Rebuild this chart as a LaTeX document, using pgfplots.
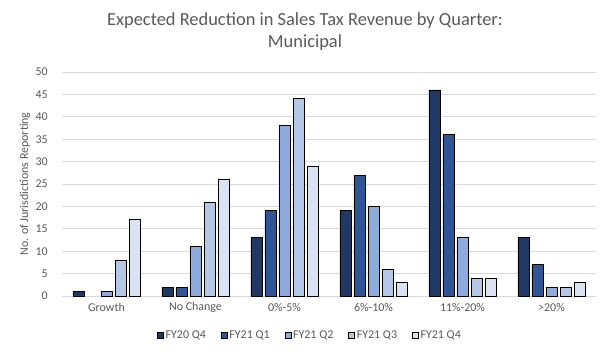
\documentclass[border=0pt]{standalone}
\usepackage{pgfplots}
\pgfplotsset{compat=1.18}
\usepackage{fontspec}
\setmainfont{Carlito}
\definecolor{c1}{HTML}{203864}
\definecolor{c2}{HTML}{2F5597}
\definecolor{c3}{HTML}{8FAADC}
\definecolor{c4}{HTML}{B4C7E7}
\definecolor{c5}{HTML}{DAE3F3}
\definecolor{txt}{HTML}{595959}
\definecolor{gridc}{HTML}{D9D9D9}
\begin{document}
\begin{tikzpicture}
\path[use as bounding box] (0,0) rectangle (607bp,357bp);
\node[text=txt,font=\fontsize{18.5}{21}\selectfont,align=center] at (305bp,325bp) {Expected Reduction in Sales Tax Revenue by Quarter:\\[1bp]Municipal};
\begin{axis}[
  at={(62bp,61bp)}, anchor=south west,
  scale only axis, width=534bp, height=224bp,
  ybar=3bp, bar width=11bp,
  xmin=-0.5, xmax=5.5, ymin=0, ymax=50,
  xtick={0,1,2,3,4,5},
  xticklabels={Growth,No Change,0\%-5\%,6\%-10\%,11\%-20\%,>20\%},
  ytick={0,5,...,50},
  /pgf/number format/assume math mode=true,
  tick label style={text=txt,font=\fontsize{12}{14}\selectfont},
  yticklabel style={anchor=east, inner sep=0pt, xshift=-14bp},
  xticklabel style={anchor=center, inner sep=0pt, yshift=-11bp},
  major tick length=0pt,
  ymajorgrids, grid style={gridc,line width=0.75pt},
  axis x line*=bottom, axis y line*=left,
  x axis line style={gridc,line width=0.75pt,-},
  y axis line style={draw=none},
  ylabel={No. of Jurisdictions Reporting},
  ylabel style={text=txt,font=\fontsize{12}{14}\selectfont, at={(-37bp,0.5)}, anchor=center},
  legend style={at={(0.5,-39bp)}, anchor=center, xshift=-19bp, draw=none, legend columns=-1,
    font=\fontsize{12}{14}\selectfont, text=txt, inner sep=0pt,
    /tikz/every even column/.append style={column sep=13bp}},
  legend image code/.code={\draw[#1,draw=black,line width=0.5pt] (0bp,-3bp) rectangle (6bp,3bp);},
  every axis plot/.append style={draw=black,line width=0.8pt},
  clip=false,
]
\addplot[fill=c1] coordinates {(0,1) (1,2) (2,13) (3,19) (4,46) (5,13)};
\addplot[fill=c2] coordinates {(1,2) (2,19) (3,27) (4,36) (5,7)};
\addplot[fill=c3] coordinates {(0,1) (1,11) (2,38) (3,20) (4,13) (5,2)};
\addplot[fill=c4] coordinates {(0,8) (1,21) (2,44) (3,6) (4,4) (5,2)};
\addplot[fill=c5] coordinates {(0,17) (1,26) (2,29) (3,3) (4,4) (5,3)};
\legend{FY20 Q4,FY21 Q1,FY21 Q2,FY21 Q3,FY21 Q4}
\end{axis}
\end{tikzpicture}
\end{document}
